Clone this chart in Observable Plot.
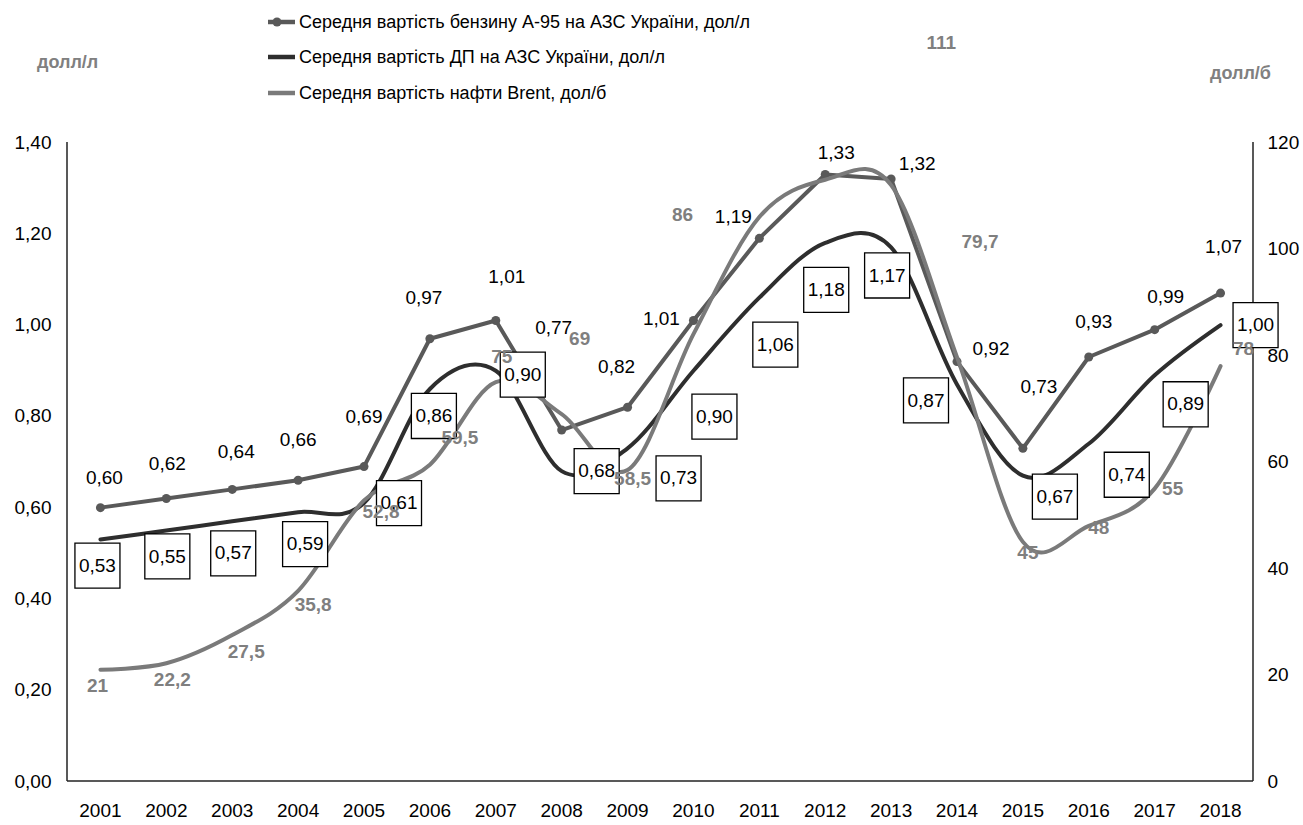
<!DOCTYPE html>
<html>
<head>
<meta charset="utf-8">
<script src="https://cdn.jsdelivr.net/npm/d3@7"></script>
<script src="https://cdn.jsdelivr.net/npm/@observablehq/plot@0.6"></script>
<style>
  html, body { margin: 0; padding: 0; background: #fff; }
  body { font-family: "Liberation Sans", Arial, sans-serif; }
  #wrap { position: relative; width: 1303px; height: 825px; overflow: hidden; }
  #header { position: relative; width: 1303px; height: 120px; }
  .unit { position: absolute; font-weight: bold; font-size: 18px; color: #808080; line-height: 22px; }
  .leg { position: absolute; left: 268px; height: 24px; display: flex; align-items: center; font-size: 18px; color: #000; white-space: nowrap; }
  .leg svg { margin-right: 4px; }
  #chart svg { overflow: visible; }
</style>
</head>
<body>
<div id="wrap">
  <div id="header"></div>
  <div id="chart"></div>
</div>
<script>
// ---------- data ----------
const years = [2001, 2002, 2003, 2004, 2005, 2006, 2007, 2008, 2009, 2010, 2011, 2012, 2013, 2014, 2015, 2016, 2017, 2018];
const petrol = [0.60, 0.62, 0.64, 0.66, 0.69, 0.97, 1.01, 0.77, 0.82, 1.01, 1.19, 1.33, 1.32, 0.92, 0.73, 0.93, 0.99, 1.07];
const diesel = [0.53, 0.55, 0.57, 0.59, 0.61, 0.86, 0.90, 0.68, 0.73, 0.90, 1.06, 1.18, 1.17, 0.87, 0.67, 0.74, 0.89, 1.00];
const brent = [21, 22.2, 27.5, 35.8, 52.8, 59.5, 75, 69, 58.5, 84, 106, 113, 112, 79.7, 45, 48, 55, 78];
const brentLabels = ["21", "22,2", "27,5", "35,8", "52,8", "59,5", "75", "69", "58,5", "86", "111", null, null, "79,7", "45", "48", "55", "78"];
const leftTicks = [0, 0.2, 0.4, 0.6, 0.8, 1.0, 1.2, 1.4];
const rightTicks = [0, 20, 40, 60, 80, 100, 120];
const seriesNames = [
  "Середня вартість бензину А-95 на АЗС України, дол/л",
  "Середня вартість ДП на АЗС України, дол/л",
  "Середня вартість нафти Brent, дол/б"
];
const unitLeft = "долл/л";
const unitRight = "долл/б";

// ---------- layout (label offsets in px, relative to the data point) ----------
const petrolOff = [[4,-30],[1,-35],[4,-37],[0,-40],[0,-50],[-6,-41],[11,-44],[-8,-102],[-11,-40],[-32,-2],[-26,-21],[11,-22],[26,-15],[34,-13],[16,-61],[5,-35],[11,-33],[3,-46]];
const dieselOff = [[-3,26],[1,26],[1,32],[7,32],[35,0],[4,27],[27,4],[35,0],[51,30],[21,46],[16,47],[1,47],[-4,28],[-31,16],[32,21],[38,31],[31,29],[35,0]];
const brentOff = [[-3,16],[6,17],[14,17],[15,14],[17,12],[30,-27],[6,-25],[18,-75],[5,9],[-11,-119],[182,-174],null,null,[23,-115],[5,11],[10,2],[18,0],[23,-17]];

const colPetrol = "#595959", colDiesel = "#2e2e2e", colBrent = "#7a7a7a", colBrentLabel = "#7f7f7f";
const FONT = '"Liberation Sans", Arial, sans-serif';

// right axis maps onto the left scale
const leftMax = 1.4, rightMax = 120;
const toLeft = v => v * leftMax / rightMax;

const rows = years.map((year, i) => ({
  year, petrol: petrol[i], diesel: diesel[i], brent: toLeft(brent[i]), brentRaw: brent[i], i
}));
const fmt2 = v => v.toFixed(2).replace(".", ",");

// ---------- header (legend + units) ----------
const header = document.getElementById("header");
const ul = document.createElement("div"); ul.className = "unit"; ul.textContent = unitLeft;
ul.style.left = "37px"; ul.style.top = "51px"; header.appendChild(ul);
const ur = document.createElement("div"); ur.className = "unit"; ur.textContent = unitRight;
ur.style.left = "1210px"; ur.style.top = "62px"; header.appendChild(ur);

const legColors = [colPetrol, colDiesel, colBrent];
const legTops = [10, 45, 81];
seriesNames.forEach((name, i) => {
  const row = document.createElement("div");
  row.className = "leg";
  row.style.top = legTops[i] + "px";
  const sw = d3.create("svg").attr("width", 27).attr("height", 12);
  sw.append("line").attr("x1", 0).attr("x2", 27).attr("y1", 6).attr("y2", 6)
    .attr("stroke", legColors[i]).attr("stroke-width", 4.5);
  if (i === 0) sw.append("circle").attr("cx", 9).attr("cy", 6).attr("r", 4.5).attr("fill", legColors[i]);
  row.appendChild(sw.node());
  const t = document.createElement("span"); t.textContent = name;
  row.appendChild(t);
  header.appendChild(row);
});

// ---------- chart ----------
const marks = [];

// axis lines (left, right, bottom)
marks.push((index, scales, values, dims) => {
  const g = d3.create("svg:g").attr("stroke", "#222").attr("stroke-width", 1.5);
  const top = dims.marginTop, bottom = dims.height - dims.marginBottom;
  const left = dims.marginLeft, right = dims.width - dims.marginRight;
  g.append("line").attr("x1", left).attr("x2", left).attr("y1", top).attr("y2", bottom);
  g.append("line").attr("x1", right).attr("x2", right).attr("y1", top).attr("y2", bottom);
  g.append("line").attr("x1", left).attr("x2", right).attr("y1", bottom).attr("y2", bottom);
  return g.node();
});

marks.push(Plot.axisY(leftTicks, {anchor: "left", tickSize: 0, tickPadding: 16, tickFormat: fmt2, fontSize: 19, label: null}));
marks.push(Plot.axisY(rightTicks.map(toLeft), {anchor: "right", tickSize: 0, tickPadding: 14, tickFormat: d => String(Math.round(d * rightMax / leftMax)), fontSize: 19, label: null}));
marks.push(Plot.axisX({anchor: "bottom", tickSize: 0, tickPadding: 22, tickFormat: d => String(d), fontSize: 19, label: null}));

// lines
marks.push(Plot.line(rows, {x: "year", y: "petrol", stroke: colPetrol, strokeWidth: 4}));
marks.push(Plot.dot(rows, {x: "year", y: "petrol", fill: colPetrol, r: 4.5}));
marks.push(Plot.line(rows, {x: "year", y: "diesel", stroke: colDiesel, strokeWidth: 4, curve: "cardinal"}));
marks.push(Plot.line(rows, {x: "year", y: "brent", stroke: colBrent, strokeWidth: 4, curve: "cardinal"}));

// petrol labels
rows.forEach((d, i) => {
  marks.push(Plot.text([d], {x: "year", y: "petrol", text: r => fmt2(r.petrol), dx: petrolOff[i][0], dy: petrolOff[i][1], fontSize: 19, fill: "#000"}));
});
// diesel boxed labels
rows.forEach((d, i) => {
  marks.push(Plot.dot([d], {x: "year", y: "diesel", symbol: "square", r: 25.4, fill: "#fff", stroke: "#000", strokeWidth: 1.3, dx: dieselOff[i][0], dy: dieselOff[i][1]}));
  marks.push(Plot.text([d], {x: "year", y: "diesel", text: r => fmt2(r.diesel), dx: dieselOff[i][0], dy: dieselOff[i][1], fontSize: 19, fill: "#000"}));
});
// brent labels
rows.forEach((d, i) => {
  if (brentLabels[i] == null) return;
  marks.push(Plot.text([d], {x: "year", y: "brent", text: () => brentLabels[i], dx: brentOff[i][0], dy: brentOff[i][1], fontSize: 19, fontWeight: "bold", fill: colBrentLabel}));
});

const chart = Plot.plot({
  width: 1303,
  height: 705,
  marginTop: 22,
  marginBottom: 44,
  marginLeft: 67,
  marginRight: 50,
  style: {fontFamily: FONT, fontSize: "19px", color: "#000", background: "#fff", overflow: "visible"},
  x: {type: "point", domain: years, padding: 0.5, align: 0.5, round: false, axis: null},
  y: {domain: [0, leftMax], axis: null},
  marks
});
document.getElementById("chart").appendChild(chart);
</script>
</body>
</html>
